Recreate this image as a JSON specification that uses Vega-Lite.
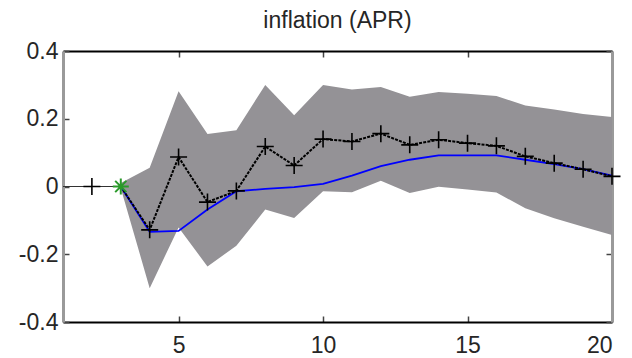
{
  "$schema": "https://vega.github.io/schema/vega-lite/v6.json",
  "width": 549,
  "height": 271,
  "autosize": "none",
  "padding": {"left": 63, "top": 51, "right": 20, "bottom": 36},
  "title": {"text": "inflation (APR)", "fontSize": 23, "font": "Liberation Sans", "fontWeight": "normal", "color": "#262626", "baseline": "alphabetic", "offset": 21, "dy": 32, "anchor": "middle"},
  "config": {
    "view": {"stroke": null},
    "axis": {"grid": false, "labelFont": "Liberation Sans", "labelFontSize": 23, "labelColor": "#262626", "tickSize": -6, "tickWidth": 1.5, "tickColor": "#444", "title": null}
  },
  "datasets": {
    "band": [
      {"x": 3, "lo": -0.005, "hi": 0.01},
      {"x": 4, "lo": -0.30, "hi": 0.055},
      {"x": 5, "lo": -0.121, "hi": 0.281},
      {"x": 6, "lo": -0.236, "hi": 0.155},
      {"x": 7, "lo": -0.175, "hi": 0.166},
      {"x": 8, "lo": -0.068, "hi": 0.300},
      {"x": 9, "lo": -0.093, "hi": 0.210},
      {"x": 10, "lo": -0.014, "hi": 0.300},
      {"x": 11, "lo": -0.017, "hi": 0.286},
      {"x": 12, "lo": 0.017, "hi": 0.294},
      {"x": 13, "lo": -0.019, "hi": 0.265},
      {"x": 14, "lo": -0.001, "hi": 0.279},
      {"x": 15, "lo": -0.009, "hi": 0.274},
      {"x": 16, "lo": -0.018, "hi": 0.267},
      {"x": 17, "lo": -0.064, "hi": 0.239},
      {"x": 18, "lo": -0.094, "hi": 0.227},
      {"x": 19, "lo": -0.119, "hi": 0.214},
      {"x": 20, "lo": -0.143, "hi": 0.205}
    ],
    "pre": [
      {"x": 1, "v": 0},
      {"x": 2, "v": 0},
      {"x": 3, "v": 0}
    ],
    "blue": [
      {"x": 3, "v": 0},
      {"x": 4, "v": -0.134},
      {"x": 5, "v": -0.131},
      {"x": 6, "v": -0.068},
      {"x": 7, "v": -0.014},
      {"x": 8, "v": -0.007},
      {"x": 9, "v": -0.002},
      {"x": 10, "v": 0.008},
      {"x": 11, "v": 0.032},
      {"x": 12, "v": 0.060},
      {"x": 13, "v": 0.079},
      {"x": 14, "v": 0.092},
      {"x": 15, "v": 0.092},
      {"x": 16, "v": 0.092},
      {"x": 17, "v": 0.079},
      {"x": 18, "v": 0.066},
      {"x": 19, "v": 0.051},
      {"x": 20, "v": 0.032}
    ],
    "resp": [
      {"x": 3, "v": 0},
      {"x": 4, "v": -0.128},
      {"x": 5, "v": 0.087},
      {"x": 6, "v": -0.046},
      {"x": 7, "v": -0.013},
      {"x": 8, "v": 0.118},
      {"x": 9, "v": 0.062},
      {"x": 10, "v": 0.140},
      {"x": 11, "v": 0.133},
      {"x": 12, "v": 0.156},
      {"x": 13, "v": 0.123},
      {"x": 14, "v": 0.138},
      {"x": 15, "v": 0.128},
      {"x": 16, "v": 0.120},
      {"x": 17, "v": 0.089},
      {"x": 18, "v": 0.069},
      {"x": 19, "v": 0.051},
      {"x": 20, "v": 0.030}
    ],
    "marks": [
      {"x": 2, "v": 0},
      {"x": 4, "v": -0.128},
      {"x": 5, "v": 0.087},
      {"x": 6, "v": -0.046},
      {"x": 7, "v": -0.013},
      {"x": 8, "v": 0.118},
      {"x": 9, "v": 0.062},
      {"x": 10, "v": 0.140},
      {"x": 11, "v": 0.133},
      {"x": 12, "v": 0.156},
      {"x": 13, "v": 0.123},
      {"x": 14, "v": 0.138},
      {"x": 15, "v": 0.128},
      {"x": 16, "v": 0.120},
      {"x": 17, "v": 0.089},
      {"x": 18, "v": 0.069},
      {"x": 19, "v": 0.051},
      {"x": 20, "v": 0.030}
    ],
    "star": [
      {"x": 3, "v": 0}
    ]
  },
  "layer": [
    {
      "data": {"name": "band"},
      "mark": {"type": "area", "color": "#949296", "opacity": 1},
      "encoding": {
        "x": {"field": "x", "type": "quantitative", "scale": {"domain": [1, 20], "nice": false, "zero": false},
              "axis": {"orient": "bottom", "values": [5, 10, 15, 20], "domainColor": "#000", "domainWidth": 2, "labelPadding": 18}},
        "y": {"field": "lo", "type": "quantitative", "scale": {"domain": [-0.4, 0.4], "nice": false, "zero": false},
              "axis": {"orient": "left", "values": [-0.4, -0.2, 0, 0.2, 0.4], "domainColor": "#9a9a9a", "domainWidth": 3, "labelPadding": 11, "labelExpr": "datum.value == 0 ? '0' : replace(format(datum.value, '.1f'), '\u2212', '-')"}},
        "y2": {"field": "hi"}
      }
    },
    {
      "data": {"name": "pre"},
      "mark": {"type": "line", "color": "#333", "strokeWidth": 1},
      "encoding": {
        "x": {"field": "x", "type": "quantitative", "scale": {"domain": [1, 20], "nice": false, "zero": false}, "axis": null},
        "y": {"field": "v", "type": "quantitative", "scale": {"domain": [-0.4, 0.4], "nice": false, "zero": false}, "axis": null}
      }
    },
    {
      "data": {"name": "blue"},
      "mark": {"type": "line", "color": "#0000ff", "strokeWidth": 1.8},
      "encoding": {
        "x": {"field": "x", "type": "quantitative", "scale": {"domain": [1, 20], "nice": false, "zero": false}, "axis": null},
        "y": {"field": "v", "type": "quantitative", "scale": {"domain": [-0.4, 0.4], "nice": false, "zero": false}, "axis": null}
      }
    },
    {
      "data": {"name": "resp"},
      "mark": {"type": "line", "color": "#000", "strokeWidth": 2, "strokeDash": [3, 1.2]},
      "encoding": {
        "x": {"field": "x", "type": "quantitative", "scale": {"domain": [1, 20], "nice": false, "zero": false}, "axis": null},
        "y": {"field": "v", "type": "quantitative", "scale": {"domain": [-0.4, 0.4], "nice": false, "zero": false}, "axis": null}
      }
    },
    {
      "data": {"name": "marks"},
      "mark": {"type": "point", "shape": "M-1,0H1M0,-1V1", "size": 289, "filled": false, "stroke": "#000", "strokeWidth": 1.6, "opacity": 1},
      "encoding": {
        "x": {"field": "x", "type": "quantitative", "scale": {"domain": [1, 20], "nice": false, "zero": false}, "axis": null},
        "y": {"field": "v", "type": "quantitative", "scale": {"domain": [-0.4, 0.4], "nice": false, "zero": false}, "axis": null}
      }
    },
    {
      "data": {"name": "star"},
      "mark": {"type": "point", "shape": "M-1,0H1M0,-1V1M-0.7,-0.7L0.7,0.7M-0.7,0.7L0.7,-0.7", "size": 256, "filled": false, "stroke": "#2a9a2a", "strokeWidth": 2, "opacity": 1},
      "encoding": {
        "x": {"field": "x", "type": "quantitative", "scale": {"domain": [1, 20], "nice": false, "zero": false}, "axis": null},
        "y": {"field": "v", "type": "quantitative", "scale": {"domain": [-0.4, 0.4], "nice": false, "zero": false}, "axis": null}
      }
    },
    {
      "data": {"name": "band"},
      "mark": {"type": "point", "opacity": 0},
      "encoding": {
        "x": {"field": "x", "type": "quantitative", "scale": {"domain": [1, 20], "nice": false, "zero": false},
              "axis": {"orient": "top", "values": [5, 10, 15, 20], "labels": false, "domainColor": "#000", "domainWidth": 2}},
        "y": {"field": "lo", "type": "quantitative", "scale": {"domain": [-0.4, 0.4], "nice": false, "zero": false},
              "axis": {"orient": "right", "values": [-0.4, -0.2, 0, 0.2, 0.4], "labels": false, "domainColor": "#9a9a9a", "domainWidth": 3}}
      }
    }
  ],
  "resolve": {"axis": {"x": "independent", "y": "independent"}}
}
